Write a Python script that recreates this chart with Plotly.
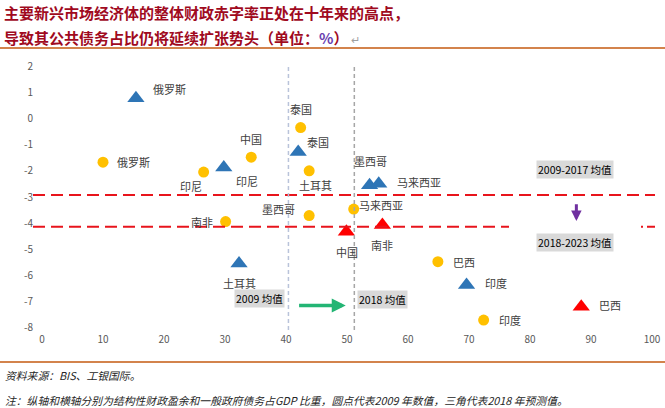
import plotly.graph_objects as go

# ---------------- data ----------------
countries_2009 = ["俄罗斯", "印尼", "中国", "泰国", "土耳其", "南非", "墨西哥", "马来西亚", "巴西", "印度"]
debt_2009 = [10.0, 26.5, 34.3, 42.4, 43.8, 30.1, 43.8, 51.1, 64.9, 72.4]
balance_2009 = [-1.67, -2.05, -1.48, -0.35, -2.0, -3.94, -3.71, -3.46, -5.47, -7.7]

countries_2018 = ["俄罗斯", "印尼", "泰国", "土耳其", "墨西哥", "马来西亚", "印度", "中国", "南非", "巴西"]
debt_2018 = [15.4, 29.8, 42.0, 32.3, 53.7, 55.2, 69.6, 49.9, 55.8, 88.4]
balance_2018 = [0.77, -1.87, -1.28, -5.54, -2.55, -2.49, -6.36, -4.33, -4.07, -7.19]
highlight_2018 = ["中国", "南非", "巴西"]

mean_balance_2009_2017 = -2.92
mean_balance_2018_2023 = -4.14
mean_debt_2009 = 40.4
mean_debt_2018 = 51.2

x_ticks = [0, 10, 20, 30, 40, 50, 60, 70, 80, 90, 100]
y_ticks = [2, 1, 0, -1, -2, -3, -4, -5, -6, -7, -8]

title_line1 = "主要新兴市场经济体的整体财政赤字率正处在十年来的高点，"
title_line2 = "导致其公共债务占比仍将延续扩张势头（单位："
source_text = "资料来源：BIS、工银国际。"
note_text = "注：纵轴和横轴分别为结构性财政盈余和一般政府债务占GDP 比重，圆点代表2009 年数值，三角代表2018 年预测值。"

# ---------------- layout / style ----------------
W, H = 665, 408
ML, MR, MT, MB = 42, 13, 66, 80
PW, PH = W - ML - MR, H - MT - MB
FONT = "Noto Sans CJK SC, Noto Sans, sans-serif"

def px_x(px):
    return (px - ML) / PW

def px_y(py):
    return (H - MB - py) / PH

# label offsets in px (dx right, dy down)
off_2009 = [(30, 0), (-13, 14), (0, -18), (0, -19), (6, 14), (-24, 0), (-31, -7), (27, -4), (26, 0), (26, 0)]
off_2018 = [(34, -9), (23, 14), (20, -10), (0, 19), (1, -24), (40, -2), (29, -2), (1, 20), (0, 20), (29, -2)]

fig = go.Figure()

fig.add_trace(go.Scatter(
    x=debt_2009, y=balance_2009, mode="markers",
    marker=dict(symbol="circle", size=11, color="#FFC000"),
    hoverinfo="skip", showlegend=False, cliponaxis=False))

colors_2018 = ["#FF0000" if c in highlight_2018 else "#2E75B6" for c in countries_2018]
fig.add_trace(go.Scatter(
    x=debt_2018, y=balance_2018, mode="markers",
    marker=dict(symbol="triangle-up", size=15, color=colors_2018),
    hoverinfo="skip", showlegend=False, cliponaxis=False))

annotations = []
label_font = dict(family=FONT, size=11, color="#404040")
for c, xv, yv, (dx, dy) in zip(countries_2009, debt_2009, balance_2009, off_2009):
    annotations.append(dict(x=xv, y=yv, xref="x", yref="y", text=c, showarrow=False,
                            xshift=dx, yshift=-dy, font=label_font))
for c, xv, yv, (dx, dy) in zip(countries_2018, debt_2018, balance_2018, off_2018):
    annotations.append(dict(x=xv, y=yv, xref="x", yref="y", text=c, showarrow=False,
                            xshift=dx, yshift=-dy, font=label_font))

# mean labels with grey background
box_font = dict(family=FONT, size=10.5, color="#000000")
annotations += [
    dict(x=87.4, y=-1.96, xref="x", yref="y", text="2009-2017 均值", showarrow=False,
         bgcolor="#D9D9D9", font=box_font, borderpad=1),
    dict(x=87.4, y=-4.72, xref="x", yref="y", text="2018-2023 均值", showarrow=False,
         bgcolor="#D9D9D9", font=box_font, borderpad=1),
    dict(x=35.6, y=-6.89, xref="x", yref="y", text="2009 均值", showarrow=False,
         bgcolor="#D9D9D9", font=box_font, borderpad=1),
    dict(x=55.9, y=-6.92, xref="x", yref="y", text="2018 均值", showarrow=False,
         bgcolor="#D9D9D9", font=box_font, borderpad=1),
]

# arrows
annotations.append(dict(x=mean_debt_2018 - 1.4, y=-7.14, ax=mean_debt_2009 + 1.5, ay=-7.14,
                        xref="x", yref="y", axref="x", ayref="y", text="", showarrow=True,
                        arrowhead=2, arrowsize=0.8, arrowwidth=3.5, arrowcolor="#23B574"))
annotations.append(dict(x=87.6, y=-3.92, ax=87.6, ay=-3.22,
                        xref="x", yref="y", axref="x", ayref="y", text="", showarrow=True,
                        arrowhead=2, arrowsize=0.7, arrowwidth=3, arrowcolor="#7030A0"))

# title
title_font = dict(family=FONT, size=15, color="#A00A1E")
annotations.append(dict(x=px_x(2), y=px_y(13), xref="paper", yref="paper", xanchor="left", yanchor="middle",
                        text="<b>" + title_line1 + "</b>", showarrow=False, font=title_font))
annotations.append(dict(x=px_x(2), y=px_y(37), xref="paper", yref="paper", xanchor="left", yanchor="middle",
                        text="<b>" + title_line2 + "<span style='color:#6A3FB0'>%</span>）</b>"
                             + "<span style='color:#A0A0A0;font-size:11px'> ↵</span>",
                        showarrow=False, font=title_font))

# footnotes
foot_font = dict(family=FONT, size=10.8, color="#262626")
annotations.append(dict(x=px_x(3), y=px_y(375), xref="paper", yref="paper", xanchor="left", yanchor="middle",
                        text="<i>" + source_text + "</i>", showarrow=False, font=foot_font))
annotations.append(dict(x=px_x(3), y=px_y(400), xref="paper", yref="paper", xanchor="left", yanchor="middle",
                        text="<i>" + note_text + "</i>", showarrow=False, font=foot_font))

shapes = [
    # red dashed horizontal mean lines
    dict(type="line", xref="paper", yref="y", x0=px_x(33), x1=px_x(655),
         y0=mean_balance_2009_2017, y1=mean_balance_2009_2017,
         line=dict(color="#E8141C", width=2, dash="12px,6px")),
    dict(type="line", xref="paper", yref="y", x0=px_x(33), x1=px_x(509),
         y0=mean_balance_2018_2023, y1=mean_balance_2018_2023,
         line=dict(color="#E8141C", width=2, dash="12px,6px")),
    dict(type="line", xref="paper", yref="y", x0=px_x(641), x1=px_x(655),
         y0=mean_balance_2018_2023, y1=mean_balance_2018_2023,
         line=dict(color="#E8141C", width=2, dash="2px,4px,8px,20px")),
    # vertical mean lines
    dict(type="line", xref="x", yref="paper", x0=mean_debt_2009, x1=mean_debt_2009,
         y0=px_y(330), y1=px_y(66), line=dict(color="#B9C3DA", width=1.5, dash="4px,3px")),
    dict(type="line", xref="x", yref="paper", x0=mean_debt_2018, x1=mean_debt_2018,
         y0=px_y(330), y1=px_y(66), line=dict(color="#A6A6A6", width=1.5, dash="4px,3px")),
    # orange rule lines
    dict(type="line", xref="paper", yref="paper", x0=px_x(0), x1=px_x(665), y0=px_y(48), y1=px_y(48),
         line=dict(color="#C55A11", width=1.5)),
    dict(type="line", xref="paper", yref="paper", x0=px_x(0), x1=px_x(665), y0=px_y(362), y1=px_y(362),
         line=dict(color="#C55A11", width=1.5)),
]

fig.update_layout(
    width=W, height=H, autosize=False,
    margin=dict(l=ML, r=MR, t=MT, b=MB, pad=0, autoexpand=False),
    paper_bgcolor="white", plot_bgcolor="white",
    font=dict(family=FONT, size=10, color="#595959"),
    xaxis=dict(range=[-0.001, 100.001], tickvals=x_ticks, ticktext=[str(v) for v in x_ticks],
               showgrid=False, zeroline=False, showline=False, ticks="", automargin=False,
               tickfont=dict(size=10, color="#595959"), ticklabelstandoff=4),
    yaxis=dict(range=[-8.001, 2.001], tickvals=y_ticks, ticktext=[str(v) for v in y_ticks],
               showgrid=False, zeroline=False, showline=False, ticks="", automargin=False,
               tickfont=dict(size=10, color="#595959"), ticklabelstandoff=8),
    annotations=annotations,
    shapes=shapes,
)

fig.write_html("out.html", config={"displayModeBar": False},
               post_script="document.body.style.margin='0';document.body.style.overflow='hidden';")
